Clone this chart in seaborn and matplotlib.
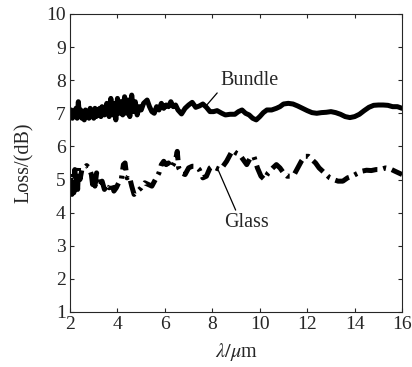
import numpy as np
import pandas as pd
import matplotlib
matplotlib.use("Agg")
import matplotlib.pyplot as plt
import seaborn as sns

bundle_x = [2.00, 2.05, 2.10, 2.15, 2.20, 2.25, 2.30, 2.35, 2.40, 2.45, 2.50, 2.55, 2.60, 2.65, 2.70,
            2.75, 2.80, 2.85, 2.90, 2.95, 3.00, 3.05, 3.10, 3.15, 3.20, 3.25, 3.30, 3.35, 3.45, 3.55,
            3.65, 3.72, 3.80, 3.87, 3.93, 4.00, 4.08, 4.15, 4.22, 4.30, 4.38, 4.45, 4.52, 4.60, 4.68,
            4.75, 4.83, 4.92, 5.00, 5.10, 5.25, 5.35, 5.45, 5.55, 5.65, 5.75, 5.85, 5.95, 6.05, 6.15,
            6.25, 6.35, 6.45, 6.55, 6.70, 6.85, 7.00, 7.15, 7.30, 7.45, 7.60, 7.75, 7.90, 8.05, 8.20,
            8.40, 8.55, 8.75, 8.95, 9.10, 9.25, 9.40, 9.55, 9.70, 9.85, 10.00, 10.15, 10.30, 10.50,
            10.70, 10.85, 11.00, 11.20, 11.40, 11.60, 11.80, 12.00, 12.20, 12.40, 12.60, 12.80, 13.00,
            13.20, 13.40, 13.60, 13.80, 14.00, 14.20, 14.40, 14.60, 14.80, 15.00, 15.20, 15.40, 15.60,
            15.80, 16.00]
bundle_y = [6.95, 7.10, 6.85, 7.05, 6.90, 7.15, 6.85, 7.35, 6.90, 7.10, 6.85, 7.05, 6.80, 7.10, 6.90,
            7.05, 6.85, 7.15, 6.90, 7.05, 6.85, 7.15, 6.90, 7.10, 6.95, 7.15, 6.90, 7.20, 6.95, 7.30,
            6.90, 7.45, 6.95, 7.30, 6.80, 7.45, 7.00, 7.35, 6.95, 7.50, 7.00, 7.40, 6.90, 7.55, 7.05,
            7.35, 6.95, 7.20, 7.10, 7.30, 7.40, 7.20, 7.05, 7.00, 7.20, 7.10, 7.30, 7.15, 7.25, 7.20,
            7.35, 7.20, 7.25, 7.10, 6.98, 7.15, 7.25, 7.33, 7.18, 7.22, 7.28, 7.18, 7.05, 7.05, 7.08,
            7.00, 6.95, 6.97, 6.97, 7.05, 7.10, 7.00, 6.95, 6.85, 6.80, 6.90, 7.02, 7.10, 7.10,
            7.15, 7.20, 7.28, 7.30, 7.28, 7.22, 7.15, 7.08, 7.02, 7.00, 7.02, 7.03, 7.05,
            7.02, 6.97, 6.90, 6.87, 6.90, 6.97, 7.08, 7.18, 7.24, 7.25, 7.25, 7.24, 7.20,
            7.20, 7.15]

glass_x = [2.00, 2.04, 2.08, 2.12, 2.16, 2.20, 2.24, 2.28, 2.32, 2.36, 2.42, 2.50, 2.60, 2.70, 2.80,
           2.90, 2.95, 3.00, 3.05, 3.12, 3.20, 3.28, 3.35, 3.45, 3.55, 3.65, 3.75, 3.85, 3.95, 4.05,
           4.15, 4.25, 4.32, 4.40, 4.50, 4.60, 4.70, 4.85, 5.00, 5.15, 5.30, 5.45, 5.60, 5.75, 5.85,
           5.95, 6.05, 6.15, 6.25, 6.35, 6.45, 6.52, 6.58, 6.70, 6.85, 7.00, 7.15, 7.30, 7.45, 7.60,
           7.75, 7.90, 8.00, 8.15, 8.30, 8.45, 8.60, 8.75, 8.85, 9.00, 9.15, 9.30, 9.45, 9.60, 9.75,
           9.90, 10.05, 10.20, 10.35, 10.55, 10.70, 10.85, 11.00, 11.15, 11.30, 11.45, 11.60, 11.75,
           11.90, 12.05, 12.20, 12.35, 12.50, 12.65, 12.80, 12.95, 13.10, 13.30, 13.50, 13.70, 13.90,
           14.10, 14.30, 14.50, 14.70, 14.90, 15.10, 15.30, 15.50, 15.70, 15.85, 16.00]
glass_y = [4.60, 5.20, 4.55, 5.05, 4.60, 5.30, 4.65, 5.20, 4.70, 5.35, 5.00, 5.30, 5.35, 5.42, 5.35,
           5.15, 4.85, 5.10, 4.80, 5.20, 4.85, 4.80, 4.95, 4.70, 4.85, 4.75, 4.90, 4.65, 4.75, 4.90,
           4.95, 5.45, 5.50, 5.05, 5.10, 4.80, 4.55, 4.65, 4.75, 4.90, 4.85, 4.80, 5.00, 5.20, 5.45,
           5.55, 5.45, 5.50, 5.35, 5.45, 5.60, 5.85, 5.35, 5.20, 5.15, 5.35, 5.40, 5.40, 5.30, 5.05,
           5.10, 5.35, 5.40, 5.35, 5.30, 5.40, 5.55, 5.75, 5.88, 5.80, 5.75, 5.60, 5.45, 5.65, 5.70,
           5.35, 5.10, 5.00, 5.20, 5.35, 5.45, 5.35, 5.20, 5.10, 5.10, 5.15, 5.35, 5.55,
           5.70, 5.70, 5.60, 5.50, 5.35, 5.25, 5.15, 5.05, 5.00, 4.95, 4.95, 5.05, 5.10,
           5.18, 5.25, 5.28, 5.27, 5.30, 5.30, 5.35, 5.32, 5.25, 5.20, 5.15]

x_ticks = [2, 4, 6, 8, 10, 12, 14, 16]
y_ticks = [1, 2, 3, 4, 5, 6, 7, 8, 9, 10]

sns.set_style("ticks")
plt.rcParams["font.family"] = ["Liberation Serif", "DejaVu Serif"]
plt.rcParams["mathtext.fontset"] = "stix"
plt.rcParams["xtick.direction"] = "in"
plt.rcParams["ytick.direction"] = "in"

df_b = pd.DataFrame({"x": bundle_x, "y": bundle_y})
df_g = pd.DataFrame({"x": glass_x, "y": glass_y})

fig = plt.figure(figsize=(4.12, 3.67), dpi=100)
ax = fig.add_axes([0.170, 0.150, 0.806, 0.812])

sns.lineplot(data=df_b, x="x", y="y", ax=ax, color="black", lw=3.6, estimator=None, sort=False)
sns.lineplot(data=df_g, x="x", y="y", ax=ax, color="black", lw=3.6, estimator=None, sort=False,
             linestyle=(0, (3, 1.2, 0.6, 1.2)))

ax.set_xlim(2, 16)
ax.set_ylim(1, 10)
ax.set_xticks(x_ticks)
ax.set_yticks(y_ticks)
ax.tick_params(axis="both", labelsize=14, length=3, width=0.8, top=True, right=True, pad=3)
for s in ax.spines.values():
    s.set_linewidth(0.8)
    s.set_visible(True)

ax.set_xlabel(r"$\lambda/\mu$m", fontsize=14.5, labelpad=6)
ax.set_ylabel("Loss/(dB)", fontsize=14.5, labelpad=9)

ax.annotate("Bundle", xy=(7.73, 7.22), xytext=(9.55, 8.0), fontsize=14.5, ha="center", va="center",
            arrowprops=dict(arrowstyle="-", color="black", lw=0.9, shrinkA=0, shrinkB=0,
                            relpos=(0.0, 0.0)))
ax.annotate("Glass", xy=(8.22, 5.33), xytext=(9.42, 3.69), fontsize=14.5, ha="center", va="center",
            arrowprops=dict(arrowstyle="-", color="black", lw=0.9, shrinkA=0, shrinkB=0,
                            relpos=(0.3, 1.0)))

fig.savefig("out.png", dpi=100)
